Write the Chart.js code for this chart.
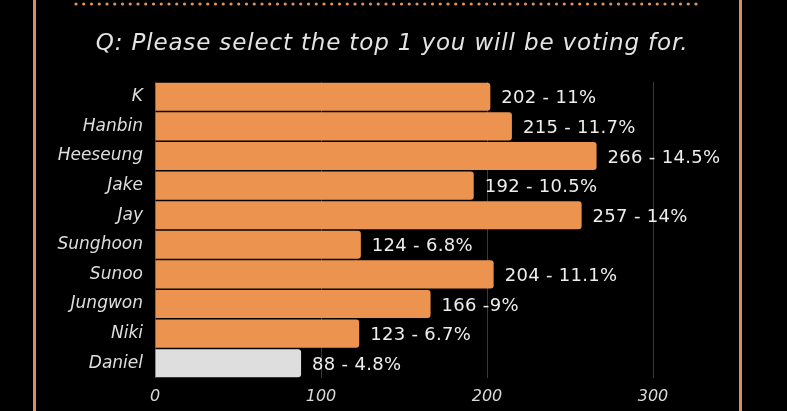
<!DOCTYPE html>
<html>
<head>
<meta charset="utf-8">
<script src="https://cdn.jsdelivr.net/npm/chart.js@4/dist/chart.umd.min.js"></script>
<style>
  html, body { margin: 0; padding: 0; background: #000; }
  #wrap { width: 787px; height: 411px; position: relative; }
</style>
</head>
<body>
<div id="wrap"><canvas id="c" width="787" height="411"></canvas></div>
<script>
const categories = ["K", "Hanbin", "Heeseung", "Jake", "Jay", "Sunghoon", "Sunoo", "Jungwon", "Niki", "Daniel"];
const votes = [202, 215, 266, 192, 257, 124, 204, 166, 123, 88];
const valueLabels = ["202 - 11%", "215 - 11.7%", "266 - 14.5%", "192 - 10.5%", "257 - 14%", "124 - 6.8%", "204 - 11.1%", "166 -9%", "123 - 6.7%", "88 - 4.8%"];
const xTicks = [0, 100, 200, 300];
const titleText = "Q: Please select the top 1 you will be voting for.";

const ORANGE = "#EC944F";
const GREY = "#DEDEDE";
const FONT = "'DejaVu Sans', sans-serif";

const barColors = categories.map((c, i) => i === categories.length - 1 ? GREY : ORANGE);

const decor = {
  id: "decor",
  beforeDraw(chart) {
    const ctx = chart.ctx;
    ctx.save();
    ctx.fillStyle = "#000";
    ctx.fillRect(0, 0, chart.width, chart.height);
    // side borders
    ctx.fillStyle = "#D98F5A";
    ctx.fillRect(33, 0, 3, chart.height);
    ctx.fillRect(739, 0, 3, chart.height);
    // dotted line
    ctx.fillStyle = "#E0955F";
    for (let x = 76; x <= 697; x += 7.75) {
      ctx.beginPath();
      ctx.arc(x, 4, 1.6, 0, Math.PI * 2);
      ctx.fill();
    }
    // title
    ctx.fillStyle = "#E4E4E4";
    ctx.font = "italic 23px " + FONT;
    ctx.textAlign = "center";
    ctx.textBaseline = "middle";
    try { ctx.letterSpacing = "0.85px"; } catch (e) {}
    ctx.fillText(titleText, 392, 44);
    ctx.restore();
  },
  afterDatasetsDraw(chart) {
    const ctx = chart.ctx;
    const meta = chart.getDatasetMeta(0);
    ctx.save();
    ctx.fillStyle = "#EDEDED";
    ctx.font = "18px " + FONT;
    ctx.textAlign = "left";
    ctx.textBaseline = "middle";
    try { ctx.letterSpacing = "0.3px"; } catch (e) {}
    meta.data.forEach((bar, i) => {
      ctx.fillText(valueLabels[i], bar.x + 11, bar.y + 2);
    });
    ctx.restore();
  }
};

new Chart(document.getElementById("c"), {
  type: "bar",
  data: {
    labels: categories,
    datasets: [{
      data: votes,
      backgroundColor: barColors,
      borderWidth: 0,
      borderRadius: { topRight: 3, bottomRight: 3 },
      borderSkipped: "start",
      barPercentage: 0.95,
      categoryPercentage: 1.0
    }]
  },
  options: {
    indexAxis: "y",
    responsive: false,
    animation: false,
    devicePixelRatio: 1,
    layout: { padding: { left: 0, right: 134, top: 82, bottom: 0 } },
    plugins: {
      legend: { display: false },
      tooltip: { enabled: false },
      title: { display: false }
    },
    scales: {
      x: {
        min: 0,
        max: 300,
        afterBuildTicks(scale) { scale.ticks = xTicks.map(v => ({ value: v })); },
        afterFit(scale) { scale.height = 33; },
        grid: { color: "#3A3A3A", lineWidth: 1, drawTicks: false },
        border: { display: false },
        ticks: {
          color: "#DADADA",
          padding: 9,
          font: { family: FONT, size: 16, style: "italic" }
        }
      },
      y: {
        afterFit(scale) { scale.width = 155; },
        grid: { display: false, drawTicks: false },
        border: { display: false },
        ticks: {
          color: "#DEDEDE",
          padding: 12,
          font: { family: FONT, size: 17, style: "italic" }
        }
      }
    }
  },
  plugins: [decor]
});
</script>
</body>
</html>
